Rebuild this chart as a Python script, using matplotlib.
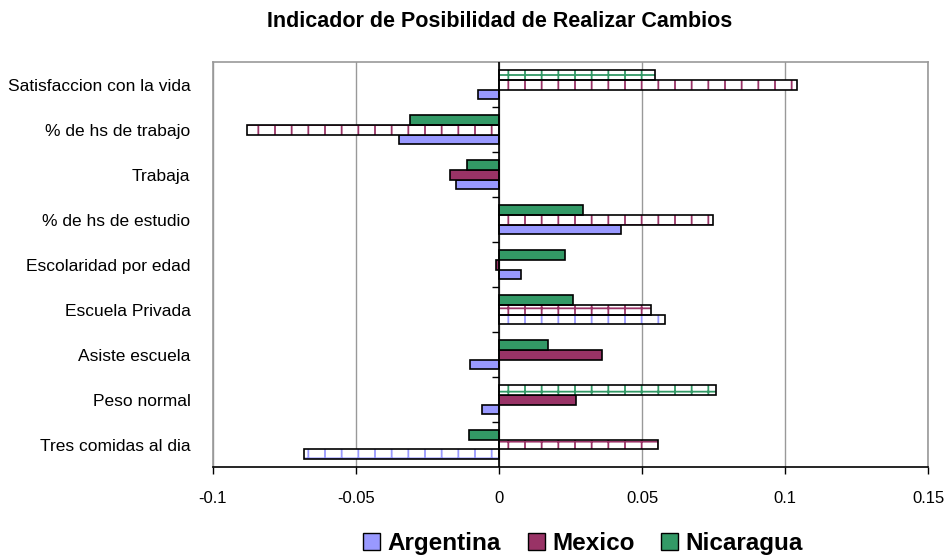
import numpy as np
import matplotlib.pyplot as plt
from matplotlib.patches import Patch

categorias = ["Satisfaccion con la vida", "% de hs de trabajo", "Trabaja",
              "% de hs de estudio", "Escolaridad por edad", "Escuela Privada",
              "Asiste escuela", "Peso normal", "Tres comidas al dia"]
argentina = [-0.0074, -0.035, -0.015, 0.0425, 0.0077, 0.058, -0.010, -0.006, -0.068]
mexico = [0.104, -0.088, -0.017, 0.0747, -0.001, 0.053, 0.036, 0.027, 0.0555]
nicaragua = [0.0547, -0.031, -0.011, 0.0295, 0.023, 0.026, 0.017, 0.076, -0.0105]
# significativo -> barra rayada
sig_arg = [0, 0, 0, 0, 0, 1, 0, 0, 1]
sig_mex = [1, 1, 0, 1, 0, 1, 0, 0, 1]
sig_nic = [1, 0, 0, 0, 0, 0, 0, 1, 0]

series = [("Argentina", argentina, sig_arg, "#9999ff"),
          ("Mexico", mexico, sig_mex, "#993366"),
          ("Nicaragua", nicaragua, sig_nic, "#339966")]

plt.rcParams['font.family'] = ['Liberation Sans', 'DejaVu Sans']
plt.rcParams['hatch.linewidth'] = 1.3

fig = plt.figure(figsize=(9.5, 5.6), dpi=100)
ax = fig.add_axes([0.224, 0.166, 0.753, 0.723])

n = len(categorias)
y = np.arange(n)[::-1]
h = 0.22
for k, (nombre, vals, sig, col) in enumerate(series):
    pos = y + (k - 1) * h
    for yi, v, s in zip(pos, vals, sig):
        if s:
            ax.barh(yi, v, height=h, color="white", edgecolor=col, hatch="+",
                    linewidth=0, zorder=3)
            ax.barh(yi, v, height=h, fill=False, edgecolor="black", linewidth=1.2, zorder=4)
        else:
            ax.barh(yi, v, height=h, color=col, edgecolor="black", linewidth=1.2, zorder=3)

ax.set_xlim(-0.1, 0.15)
ax.set_ylim(-0.5, n - 0.5)
ax.set_xticks([-0.1, -0.05, 0, 0.05, 0.1, 0.15])
ax.set_xticklabels(["-0.1", "-0.05", "0", "0.05", "0.1", "0.15"], fontsize=12)
ax.set_yticks(y)
ax.set_yticklabels(categorias, fontsize=12.5)
ax.tick_params(axis="y", length=0, pad=16)
ax.tick_params(axis="x", length=5, width=1, color="black", direction="out", pad=12)
ax.grid(axis="x", color="#999999", linewidth=1, zorder=0)
for s in ax.spines.values():
    s.set_color("#999999")
    s.set_linewidth(1.2)
ax.spines["bottom"].set_color("black")
ax.spines["bottom"].set_zorder(6)

ax.axvline(0, color="black", linewidth=1.2, zorder=5)
ax.plot(np.zeros(n - 1), np.arange(n - 1) + 0.5, linestyle="none", marker=0,
        markersize=5, color="black", markeredgewidth=1, zorder=5)

fig.suptitle("Indicador de Posibilidad de Realizar Cambios", x=0.526, y=0.98,
             fontsize=15.5, fontweight="bold")

handles = [Patch(facecolor=c, edgecolor="black", label=nm) for nm, _, _, c in series]
fig.legend(handles=handles, loc="lower center", bbox_to_anchor=(0.614, -0.03), ncol=3,
           frameon=False, prop={"size": 17.5, "weight": "bold"}, handlelength=0.7,
           handleheight=0.7, handletextpad=0.3, columnspacing=1.1)

fig.savefig("out.png", dpi=100)
